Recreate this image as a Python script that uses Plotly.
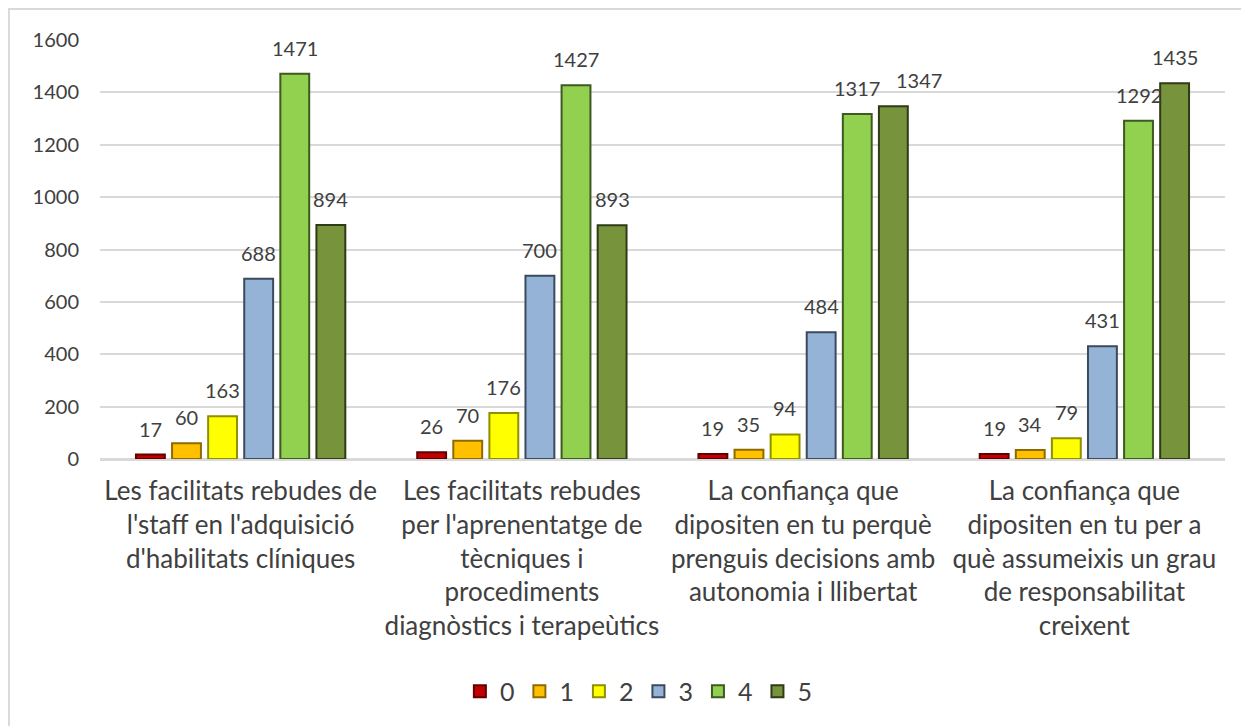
import plotly.graph_objects as go

categories = [
    "Les facilitats rebudes de<br>l'staff en l'adquisició<br>d'habilitats clíniques",
    "Les facilitats rebudes<br>per l'aprenentatge de<br>tècniques i<br>procediments<br>diagnòstics i terapeùtics",
    "La confiança que<br>dipositen en tu perquè<br>prenguis decisions amb<br>autonomia i llibertat",
    "La confiança que<br>dipositen en tu per a<br>què assumeixis un grau<br>de responsabilitat<br>creixent",
]
series_names = ["0", "1", "2", "3", "4", "5"]
s0 = [17, 26, 19, 19]
s1 = [60, 70, 35, 34]
s2 = [163, 176, 94, 79]
s3 = [688, 700, 484, 431]
s4 = [1471, 1427, 1317, 1292]
s5 = [894, 893, 1347, 1435]
series_values = [s0, s1, s2, s3, s4, s5]
colors = ["#C00000", "#FFC000", "#FFFF00", "#95B3D7", "#92D050", "#77933C"]
outlines = ["#600000", "#8F6A00", "#8F8F00", "#3B4A5C", "#3E5A20", "#2F3B16"]
y_ticks = [0, 200, 400, 600, 800, 1000, 1200, 1400, 1600]

font = "Lato"
L, R, T, B = 92, 32, 32, 275
W, H = 1249, 726
bargap, bargroupgap = 0.23, 0.2
plot_w = W - L - R
slot = plot_w / len(categories) * (1 - bargap) / len(series_names)
# label nudges (series index, category index) -> extra px, as Excel does to avoid overlap
label_nudge = {(5, 2): 26}

fig = go.Figure()
annotations = []
for i, (name, vals, c, o) in enumerate(zip(series_names, series_values, colors, outlines)):
    fig.add_trace(go.Bar(
        x=categories, y=vals, name=name,
        marker=dict(color=c, line=dict(color=o, width=2)),
    ))
    for j, (cat, v) in enumerate(zip(categories, vals)):
        annotations.append(dict(
            x=cat, y=v, xref="x", yref="y", text=str(v), showarrow=False,
            xanchor="center", yanchor="middle",
            xshift=(i - (len(series_names) - 1) / 2) * slot + label_nudge.get((i, j), 0),
            yshift=26,
            font=dict(size=20, color="#404040", family=font),
        ))

fig.update_layout(
    width=W, height=H,
    paper_bgcolor="white", plot_bgcolor="white",
    barmode="group", bargap=bargap, bargroupgap=bargroupgap,
    margin=dict(l=L, r=R, t=T, b=B),
    font=dict(family=font, color="#404040"),
    showlegend=True,
    legend=dict(orientation="h", x=0.479, xanchor="center", y=-0.5, yanchor="top",
                font=dict(size=25, color="#404040", family=font),
                traceorder="normal"),
    xaxis=dict(tickfont=dict(size=26, color="#404040", family=font),
               showline=False, ticks="", ticklabelstandoff=14),
    yaxis=dict(range=[0, 1600], tickvals=y_ticks, showgrid=True,
               gridcolor="#D9D9D9", gridwidth=2, zeroline=True,
               zerolinecolor="#D9D9D9", zerolinewidth=3,
               tickfont=dict(size=20, color="#404040", family=font),
               ticks="", ticklabelstandoff=20),
    annotations=annotations,
    shapes=[dict(type="rect", xref="paper", yref="paper",
                 x0=-0.081, x1=1.2, y0=-1.0, y1=1.074,
                 line=dict(color="#D9D9D9", width=2), layer="below")],
)

fig.write_html("out.html")
